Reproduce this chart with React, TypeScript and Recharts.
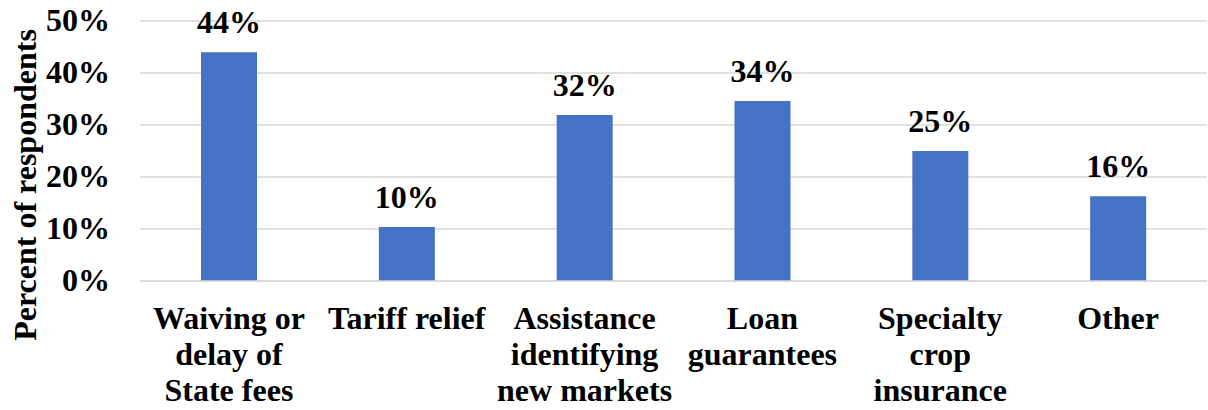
import { BarChart, Bar, XAxis, YAxis, CartesianGrid, LabelList } from "recharts";

const categories = [
  ["Waiving or", "delay of", "State fees"],
  ["Tariff relief"],
  ["Assistance", "identifying", "new markets"],
  ["Loan", "guarantees"],
  ["Specialty", "crop", "insurance"],
  ["Other"],
];
const values = [44, 10.4, 31.9, 34.6, 25, 16.3];
const valueLabels = ["44%", "10%", "32%", "34%", "25%", "16%"];
const yTicks = [0, 10, 20, 30, 40, 50];

const data = categories.map((lines, i) => ({
  name: lines.join(" "),
  lines,
  value: values[i],
  label: valueLabels[i],
}));

const FONT = "'Liberation Serif', 'Times New Roman', serif";
const SIZE = 32;

function XTick(props: any) {
  const { x, y, index } = props;
  const lines = data[index]?.lines ?? [];
  return (
    <text
      x={x}
      y={y}
      textAnchor="middle"
      fontFamily={FONT}
      fontWeight="bold"
      fontSize={SIZE}
      fill="#000"
    >
      {lines.map((l: string, i: number) => (
        <tspan key={i} x={x} dy={i === 0 ? 40 : 36}>
          {l}
        </tspan>
      ))}
    </text>
  );
}

function YTick(props: any) {
  const { x, y, payload } = props;
  return (
    <text
      x={x}
      y={y}
      dy={10}
      textAnchor="end"
      fontFamily={FONT}
      fontWeight="bold"
      fontSize={SIZE}
      fill="#000"
    >
      {payload.value}%
    </text>
  );
}

function ValueLabel(props: any) {
  const { x, y, width, index } = props;
  return (
    <text
      x={x + width / 2}
      y={y - 19}
      textAnchor="middle"
      fontFamily={FONT}
      fontWeight="bold"
      fontSize={SIZE}
      fill="#000"
    >
      {data[index].label}
    </text>
  );
}

function YTitle(props: any) {
  const { viewBox } = props;
  const cx = viewBox.x + 25;
  const cy = viewBox.y + viewBox.height / 2 + 34;
  return (
    <text
      x={cx}
      y={cy}
      transform={`rotate(-90, ${cx}, ${cy})`}
      textAnchor="middle"
      dominantBaseline="central"
      fontFamily={FONT}
      fontWeight="bold"
      fontSize={SIZE}
      fill="#000"
    >
      Percent of respondents
    </text>
  );
}

export default function App() {
  return (
    <div style={{ position: "absolute", left: 0, top: 0, background: "#fff" }}>
      <BarChart
        width={1208}
        height={410}
        data={data}
        margin={{ top: 21, right: 1, left: 0, bottom: 0 }}
        barCategoryGap={0}
      >
        <CartesianGrid vertical={false} stroke="#d9d9d9" strokeWidth={1.3} />
        <XAxis
          dataKey="name"
          axisLine={{ stroke: "#d9d9d9", strokeWidth: 1.3 }}
          tickLine={false}
          interval={0}
          tick={<XTick />}
          height={129}
        />
        <YAxis
          width={140}
          domain={[0, 50]}
          ticks={yTicks}
          axisLine={false}
          tickLine={false}
          tickMargin={24}
          tick={<YTick />}
          label={{ content: <YTitle /> }}
        />
        <Bar dataKey="value" fill="#4472C4" barSize={56} isAnimationActive={false}>
          <LabelList dataKey="label" content={<ValueLabel />} />
        </Bar>
      </BarChart>
    </div>
  );
}
